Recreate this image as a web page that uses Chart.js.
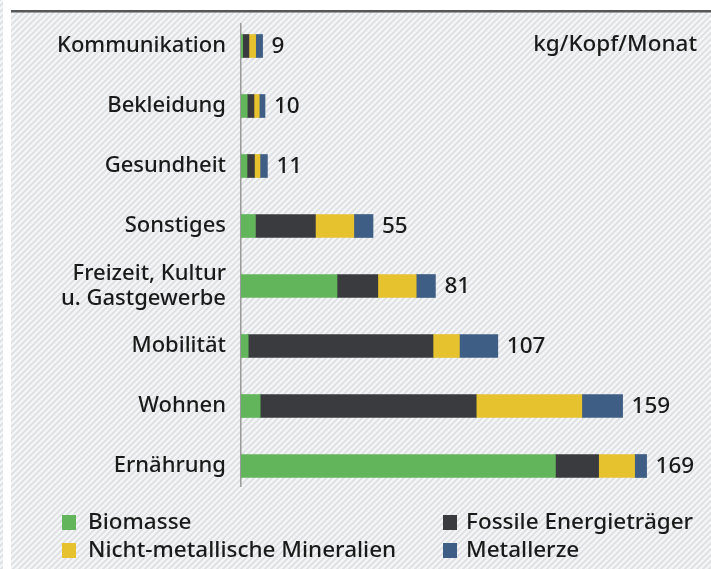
<!DOCTYPE html>
<html>
<head>
<meta charset="utf-8">
<script src="https://cdn.jsdelivr.net/npm/chart.js@4"></script>
<style>
  html, body { margin: 0; padding: 0; background: #fff; }
  #wrap { position: relative; width: 711px; height: 569px; }
</style>
</head>
<body>
<div id="wrap"><canvas id="chart" width="711" height="569"></canvas></div>
<script>
const categories = ['Kommunikation', 'Bekleidung', 'Gesundheit', 'Sonstiges', ['Freizeit, Kultur', 'u. Gastgewerbe'], 'Mobilität', 'Wohnen', 'Ernährung'];
const totals = [9, 10, 11, 55, 81, 107, 159, 169];
const biomasse = [0.7, 2.6, 2.5, 6, 40, 3, 8, 131];
const fossile = [2.6, 2.8, 3.1, 25, 17, 77, 90, 18];
const mineralien = [2.8, 2.2, 2.3, 16, 16, 11, 44, 15];
const metallerze = [2.9, 2.4, 3.1, 8, 8, 16, 17, 5];
const seriesNames = ['Biomasse', 'Fossile Energieträger', 'Nicht-metallische Mineralien', 'Metallerze'];
const colors = ['#63b55b', '#393b3e', '#e5c22e', '#3f5e85'];
const unitLabel = 'kg/Kopf/Monat';

const FONT = '"Noto Sans", sans-serif';
const TEXT = '#1a1a1a';

function makeHatch() {
  let c = document.createElement('canvas');
  c.width = 6; c.height = 6;
  let x = c.getContext('2d');
  x.fillStyle = '#f4f5f6';
  x.fillRect(0, 0, 6, 6);
  x.strokeStyle = '#dcdee1';
  x.lineWidth = 1.6;
  x.beginPath();
  x.moveTo(-1, 7); x.lineTo(7, -1);
  x.moveTo(-4, 4); x.lineTo(4, -4);
  x.moveTo(2, 10); x.lineTo(10, 2);
  x.stroke();
  return x;
}

const backdrop = {
  id: 'backdrop',
  beforeDraw(chart) {
    let ctx = chart.ctx;
    ctx.save();
    ctx.fillStyle = '#fff';
    ctx.fillRect(0, 0, chart.width, chart.height);
    let pat = ctx.createPattern(makeHatch().canvas, 'repeat');
    ctx.fillStyle = pat;
    ctx.fillRect(11, 12, chart.width - 11, chart.height - 12);
    ctx.fillRect(0, 0, 3, chart.height);
    ctx.fillStyle = '#555759';
    ctx.fillRect(11, 10, chart.width - 11, 2.5);
    // axis line
    let x = chart.scales.x.getPixelForValue(0);
    ctx.fillStyle = '#9a9a9a';
    ctx.fillRect(x - 1, 23, 1.5, 464);
    ctx.restore();
  },
  afterDatasetsDraw(chart) {
    let ctx = chart.ctx;
    ctx.save();
    ctx.font = '500 22.5px ' + FONT;
    ctx.fillStyle = TEXT;
    ctx.textBaseline = 'middle';
    let meta = chart.getDatasetMeta(chart.data.datasets.length - 1);
    meta.data.forEach(function (bar, i) {
      ctx.fillText(String(totals[i]), bar.x + 9, bar.y + 1);
    });
    // unit label
    ctx.textAlign = 'right';
    ctx.fillText(unitLabel, 697, 45);
    // legend
    ctx.textAlign = 'left';
    let pos = [[62, 522], [443, 522], [62, 550], [443, 550]];
    seriesNames.forEach(function (name, i) {
      let p = pos[i];
      ctx.fillStyle = colors[i];
      ctx.fillRect(p[0], p[1] - 7, 14, 15);
      ctx.fillStyle = TEXT;
      ctx.fillText(name, p[0] + (i % 2 ? 23 : 26), p[1] + 1);
    });
    ctx.restore();
  },
};

const datasets = [biomasse, fossile, mineralien, metallerze].map(function (values, i) {
  return {
    label: seriesNames[i],
    data: values,
    backgroundColor: colors[i],
    borderWidth: 0,
    barThickness: 23,
  };
});

new Chart(document.getElementById('chart'), {
  type: 'bar',
  data: { labels: categories, datasets: datasets },
  plugins: [backdrop],
  options: {
    indexAxis: 'y',
    responsive: false,
    animation: false,
    layout: { padding: { top: 16, bottom: 73, left: 0, right: 14 } },
    plugins: {
      legend: { display: false },
      tooltip: { enabled: false },
    },
    scales: {
      x: {
        stacked: true,
        min: 0,
        max: 190,
        display: false,
      },
      y: {
        stacked: true,
        grid: { display: false, drawTicks: false },
        border: { display: false },
        ticks: {
          color: TEXT,
          padding: 15,
          font: { size: 22, weight: 500, family: FONT, lineHeight: 1.15 },
        },
        afterFit(scale) {
          scale.width = 241;
          scale.paddingTop = 0;
          scale.paddingBottom = 0;
        },
      },
    },
  },
});
</script>
</body>
</html>
